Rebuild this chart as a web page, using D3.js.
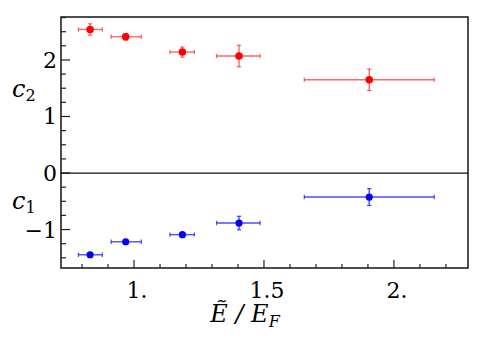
<!DOCTYPE html>
<html>
<head>
<meta charset="utf-8">
<script src="https://cdn.jsdelivr.net/npm/d3@7"></script>
<style>
  body { margin: 0; background: #fff; }
</style>
</head>
<body>
<script>
// bin centres and horizontal extents (E~/E_F)
let energy   = [0.831, 0.968, 1.186, 1.404, 1.905];
let energyLo = [0.786, 0.912, 1.138, 1.318, 1.655];
let energyHi = [0.878, 1.028, 1.232, 1.485, 2.155];
// coefficients
let c2    = [2.54, 2.41, 2.14, 2.07, 1.65];
let c2Err = [0.10, 0.06, 0.09, 0.19, 0.19];
let c1    = [-1.446, -1.216, -1.09, -0.885, -0.425];
let c1Err = [0.03, 0.03, 0.03, 0.12, 0.15];
// tick labels
let xTicks = [1, 1.5, 2];
let xTickLabels = ['1.', '1.5', '2.'];
let yTicks = [-1, 0, 1, 2];
let yTickLabels = ['\u22121', '0', '1', '2'];

let serif = "'DejaVu Serif', 'Liberation Serif', serif";

let svg = d3.select('body')
  .append('svg')
  .attr('width', 485)
  .attr('height', 341)
  .style('font-family', serif);

let plotLeft = 61, plotRight = 468, plotTop = 17, plotBottom = 268;

let x = d3.scaleLinear().domain([0.719, 2.285]).range([plotLeft, plotRight]);
let y = d3.scaleLinear().domain([-1.68, 2.76]).range([plotBottom, plotTop]);

// minor / major ticks
let xMinor = d3.range(8, 23).map(v => v / 10);
let yMinor = d3.range(-6, 12).map(v => v / 4);

svg.selectAll('.xt').data(xMinor).enter().append('line')
  .attr('x1', d => x(d)).attr('x2', d => x(d))
  .attr('y1', plotBottom)
  .attr('y2', d => xTicks.some(t => Math.abs(t - d) < 1e-6) ? plotBottom - 8 : plotBottom - 4)
  .attr('stroke', '#222').attr('stroke-width', 1.2);

svg.selectAll('.yt').data(yMinor).enter().append('line')
  .attr('y1', d => y(d)).attr('y2', d => y(d))
  .attr('x1', plotLeft)
  .attr('x2', d => Number.isInteger(d) ? plotLeft + 9 : plotLeft + 5)
  .attr('stroke', '#222').attr('stroke-width', 1.2);

// tick labels
svg.selectAll('.xl').data(xTicks).enter().append('text')
  .attr('x', d => x(d) + 3)
  .attr('y', 298)
  .attr('text-anchor', 'middle')
  .attr('font-size', 22)
  .text((d, i) => xTickLabels[i]);

svg.selectAll('.yl').data(yTicks).enter().append('text')
  .attr('x', 57)
  .attr('y', d => y(d) + 8)
  .attr('text-anchor', 'end')
  .attr('font-size', 22)
  .text((d, i) => yTickLabels[i]);

// frame and zero line
svg.append('rect')
  .attr('x', plotLeft).attr('y', plotTop)
  .attr('width', plotRight - plotLeft).attr('height', plotBottom - plotTop)
  .attr('fill', 'none').attr('stroke', '#222').attr('stroke-width', 1.6);
svg.append('line')
  .attr('x1', plotLeft).attr('x2', plotRight)
  .attr('y1', y(0)).attr('y2', y(0))
  .attr('stroke', '#111').attr('stroke-width', 1.2);

// axis labels
let lab2 = svg.append('text').attr('x', 12).attr('y', 97).attr('font-size', 24);
lab2.append('tspan').attr('font-style', 'italic').text('c');
lab2.append('tspan').attr('font-size', 16).attr('dy', 4).text('2');

let lab1 = svg.append('text').attr('x', 12).attr('y', 209).attr('font-size', 24);
lab1.append('tspan').attr('font-style', 'italic').text('c');
lab1.append('tspan').attr('font-size', 16).attr('dy', 4).text('1');

let xl = svg.append('text').attr('x', 245).attr('y', 322)
  .attr('text-anchor', 'middle').attr('font-size', 24);
xl.append('tspan').attr('font-style', 'italic').text('E\u0303');
xl.append('tspan').attr('font-style', 'italic').text(' / E');
xl.append('tspan').attr('font-style', 'italic').attr('font-size', 16).attr('dy', 5).text('F');

// series
drawSeries(c2, c2Err, '#ff0000', 'rgba(255,0,0,0.6)', 3.8);
drawSeries(c1, c1Err, '#0000ff', 'rgba(0,0,255,0.7)', 3.6);

function drawSeries(vals, errs, color, barColor, r) {
  let pts = vals.map((v, i) => ({
    x: energy[i], lo: energyLo[i], hi: energyHi[i], y: v, e: errs[i]
  }));
  let g = svg.append('g');
  let cap = 2.2;
  pts.forEach(p => {
    g.append('line')
      .attr('x1', x(p.lo)).attr('x2', x(p.hi))
      .attr('y1', y(p.y)).attr('y2', y(p.y))
      .attr('stroke', barColor).attr('stroke-width', 1.4);
    [p.lo, p.hi].forEach(v => g.append('line')
      .attr('x1', x(v)).attr('x2', x(v))
      .attr('y1', y(p.y) - cap).attr('y2', y(p.y) + cap)
      .attr('stroke', barColor).attr('stroke-width', 1.2));
    g.append('line')
      .attr('x1', x(p.x)).attr('x2', x(p.x))
      .attr('y1', y(p.y - p.e)).attr('y2', y(p.y + p.e))
      .attr('stroke', barColor).attr('stroke-width', 1.4);
    [p.y - p.e, p.y + p.e].forEach(v => g.append('line')
      .attr('x1', x(p.x) - cap).attr('x2', x(p.x) + cap)
      .attr('y1', y(v)).attr('y2', y(v))
      .attr('stroke', barColor).attr('stroke-width', 1.2));
  });
  g.selectAll('circle').data(pts).enter().append('circle')
    .attr('cx', d => x(d.x))
    .attr('cy', d => y(d.y))
    .attr('r', r)
    .attr('fill', color);
}
</script>
</body>
</html>
